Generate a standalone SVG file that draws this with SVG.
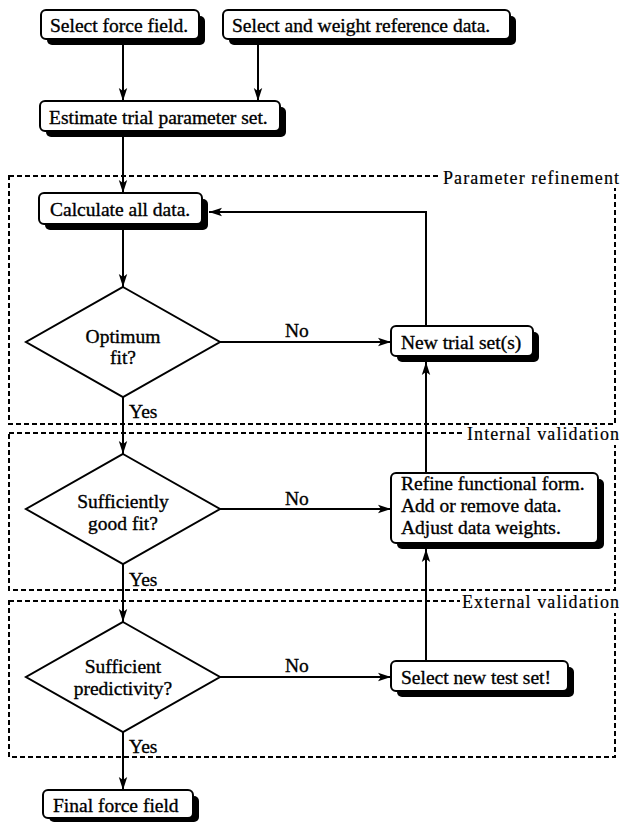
<svg xmlns="http://www.w3.org/2000/svg" width="623" height="822" viewBox="0 0 623 822" font-family="'Liberation Serif', 'Times New Roman', 'DejaVu Serif', serif">
<defs>
<style>
text{font-family:'Liberation Serif','Times New Roman','DejaVu Serif',serif;font-size:19.5px;fill:#000;stroke:#000;stroke-width:0.35}
.lbl{font-size:18px;stroke-width:0.2}
.box{fill:#fff;stroke:#000;stroke-width:2}
.sh{fill:#000}
.dia{fill:#fff;stroke:#000;stroke-width:2}
.con{fill:none;stroke:#000;stroke-width:2}
.frame{fill:none;stroke:#000;stroke-width:2;stroke-dasharray:5 3}
</style>
<marker id="ah" markerWidth="14" markerHeight="10" refX="13" refY="5" orient="auto" markerUnits="userSpaceOnUse">
<path d="M0,0.8 L13,5 L0,9.2 L3,5 Z" fill="#000"/>
</marker>
</defs>
<rect width="623" height="822" fill="#fff"/>

<g id="frames">
<rect class="frame" x="9" y="176" width="606" height="248"/>
<rect class="frame" x="9" y="433" width="606" height="157"/>
<rect class="frame" x="9" y="601" width="606" height="156"/>
<rect x="441" y="168" width="182" height="20" fill="#fff"/>
<text class="lbl" x="443" y="184" textLength="176" lengthAdjust="spacing">Parameter refinement</text>
<rect x="465" y="425" width="158" height="20" fill="#fff"/>
<text class="lbl" x="467" y="440" textLength="152" lengthAdjust="spacing">Internal validation</text>
<rect x="460" y="593" width="163" height="20" fill="#fff"/>
<text class="lbl" x="462" y="608" textLength="157" lengthAdjust="spacing">External validation</text>
</g>

<g id="connectors">
<line class="con" x1="123" y1="45" x2="123" y2="101" marker-end="url(#ah)"/>
<line class="con" x1="258" y1="45" x2="258" y2="101" marker-end="url(#ah)"/>
<line class="con" x1="123" y1="137" x2="123" y2="193" marker-end="url(#ah)"/>
<line class="con" x1="123" y1="230" x2="123" y2="287" marker-end="url(#ah)"/>
<line class="con" x1="123" y1="397" x2="123" y2="454" marker-end="url(#ah)"/>
<line class="con" x1="123" y1="564" x2="123" y2="622" marker-end="url(#ah)"/>
<line class="con" x1="123" y1="732" x2="123" y2="790" marker-end="url(#ah)"/>
<polyline class="con" points="426,326 426,212 209,212" marker-end="url(#ah)"/>
<line class="con" x1="220" y1="342" x2="391" y2="342" marker-end="url(#ah)"/>
<line class="con" x1="220" y1="509" x2="391" y2="509" marker-end="url(#ah)"/>
<line class="con" x1="220" y1="677" x2="391" y2="677" marker-end="url(#ah)"/>
<line class="con" x1="426" y1="473" x2="426" y2="362" marker-end="url(#ah)"/>
<line class="con" x1="426" y1="661" x2="426" y2="549" marker-end="url(#ah)"/>
<text x="285" y="337">No</text>
<text x="285" y="505">No</text>
<text x="285" y="672">No</text>
<text x="129" y="418">Yes</text>
<text x="129" y="586">Yes</text>
<text x="129" y="753">Yes</text>
</g>

<g id="select-force-field">
<rect class="sh" x="47" y="16" width="158" height="29" rx="5"/>
<rect class="box" x="41" y="10" width="158" height="29" rx="5"/>
<text x="50" y="32">Select force field.</text>
</g>
<g id="select-reference-data">
<rect class="sh" x="229" y="16" width="287" height="29" rx="5"/>
<rect class="box" x="223" y="10" width="287" height="29" rx="5"/>
<text x="232" y="32">Select and weight reference data.</text>
</g>
<g id="estimate">
<rect class="sh" x="46" y="107" width="240" height="30" rx="5"/>
<rect class="box" x="40" y="101" width="240" height="30" rx="5"/>
<text x="49" y="124">Estimate trial parameter set.</text>
</g>
<g id="calculate">
<rect class="sh" x="45" y="199" width="163" height="31" rx="5"/>
<rect class="box" x="39" y="193" width="163" height="31" rx="5"/>
<text x="50" y="216">Calculate all data.</text>
</g>
<g id="optimum">
<polygon class="dia" points="123,287 220,342 123,397 26,342"/>
<text x="123" y="343" text-anchor="middle">Optimum</text>
<text x="123" y="364" text-anchor="middle">fit?</text>
</g>
<g id="new-trial">
<rect class="sh" x="397" y="332" width="142" height="30" rx="5"/>
<rect class="box" x="391" y="326" width="142" height="30" rx="5"/>
<text x="401" y="349">New trial set(s)</text>
</g>
<g id="sufficiently">
<polygon class="dia" points="123,454 220,509 123,564 26,509"/>
<text x="123" y="508" text-anchor="middle">Sufficiently</text>
<text x="123" y="530" text-anchor="middle">good fit?</text>
</g>
<g id="refine">
<rect class="sh" x="397" y="479" width="207" height="70" rx="5"/>
<rect class="box" x="391" y="473" width="207" height="70" rx="5"/>
<text x="401" y="490">Refine functional form.</text>
<text x="401" y="512">Add or remove data.</text>
<text x="401" y="534">Adjust data weights.</text>
</g>
<g id="sufficient">
<polygon class="dia" points="123,622 220,677 123,732 26,677"/>
<text x="123" y="673" text-anchor="middle">Sufficient</text>
<text x="123" y="695" text-anchor="middle">predictivity?</text>
</g>
<g id="select-test">
<rect class="sh" x="397" y="667" width="177" height="30" rx="5"/>
<rect class="box" x="391" y="661" width="177" height="30" rx="5"/>
<text x="401" y="684">Select new test set!</text>
</g>
<g id="final">
<rect class="sh" x="49" y="796" width="150" height="26" rx="5"/>
<rect class="box" x="43" y="790" width="150" height="28" rx="5"/>
<text x="53" y="812">Final force field</text>
</g>
</svg>
